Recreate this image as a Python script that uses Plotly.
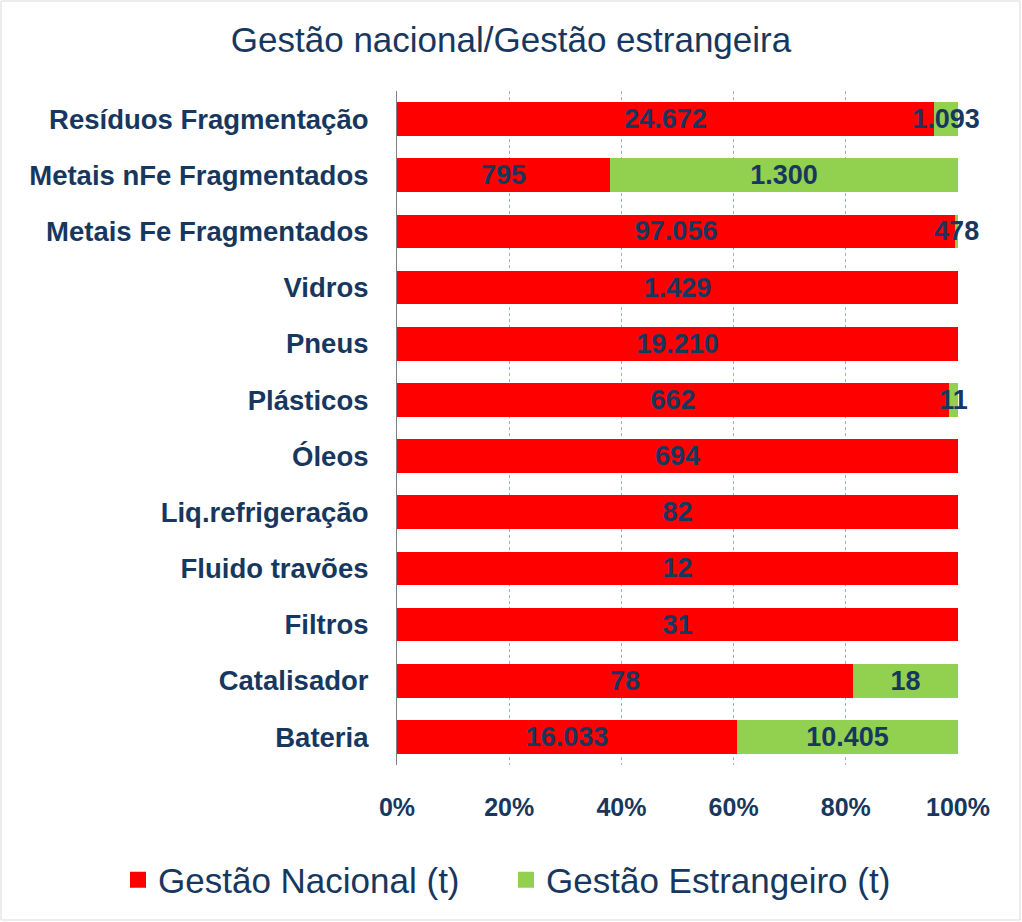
import plotly.graph_objects as go

categories = ["Resíduos Fragmentação", "Metais nFe Fragmentados", "Metais Fe Fragmentados",
              "Vidros", "Pneus", "Plásticos", "Óleos", "Liq.refrigeração",
              "Fluido travões", "Filtros", "Catalisador", "Bateria"]
nacional = [24672, 795, 97056, 1429, 19210, 662, 694, 82, 12, 31, 78, 16033]
estrangeiro = [1093, 1300, 478, 0, 0, 11, 0, 0, 0, 0, 18, 10405]
series_names = ["Gestão Nacional (t)", "Gestão Estrangeiro (t)"]
tick_vals = [0, 20, 40, 60, 80, 100]
tick_text = ["0%", "20%", "40%", "60%", "80%", "100%"]

NAVY = "#17375E"
ARIAL = "Liberation Sans, Arial, sans-serif"
COLORS = ["#FF0000", "#92D050"]

def fmt(v):
    return "" if v == 0 else f"{v:,}".replace(",", ".")

fig = go.Figure()
for vals, name, col in zip([nacional, estrangeiro], series_names, COLORS):
    fig.add_trace(go.Bar(
        y=categories, x=vals, orientation="h", name=name, showlegend=False,
        marker=dict(color=col, line=dict(width=0)),
        text=[fmt(v) for v in vals], textposition="inside", insidetextanchor="middle",
        textangle=0,
        textfont=dict(family=ARIAL, size=27, color=NAVY, weight="bold"),
        constraintext="none", cliponaxis=False,
    ))
# legend entries with larger square swatches
for name, col in zip(series_names, COLORS):
    fig.add_trace(go.Scatter(
        x=[None], y=[None], mode="markers", name=name,
        marker=dict(symbol="square", size=16, color=col),
    ))

L, R, T, B = 397, 64, 91, 157
W, H = 1022, 922
pw, ph = W - L - R, H - T - B

fig.update_layout(
    width=W, height=H,
    barmode="stack", barnorm="percent", bargap=0.4,
    plot_bgcolor="white", paper_bgcolor="white",
    margin=dict(l=L, r=R, t=T, b=B),
    uniformtext=dict(minsize=27, mode="show"),
    title=dict(text="Gestão nacional/Gestão estrangeira", x=0.5, xanchor="center",
               y=1 - 40 / H, yanchor="middle",
               font=dict(family=ARIAL, size=35, color=NAVY)),
    legend=dict(orientation="h", x=(118 - L) / pw, xanchor="left",
                y=-(880 - (H - B)) / ph, yanchor="middle",
                font=dict(family=ARIAL, size=35, color=NAVY),
                traceorder="normal", entrywidth=343),
    xaxis=dict(range=[0, 100], tickvals=tick_vals, ticktext=tick_text,
               showgrid=True, gridcolor="#9DB0C8", griddash="dot", gridwidth=1,
               zeroline=False, showline=False,
               tickfont=dict(family=ARIAL, size=25, color=NAVY, weight="bold"),
               ticklabelstandoff=25, fixedrange=True),
    yaxis=dict(autorange="reversed", showline=True, linecolor="#808080", linewidth=1,
               tickfont=dict(family=ARIAL, size=27.5, color=NAVY, weight="bold"),
               ticklabelstandoff=22, fixedrange=True),
)

# light frame around the picture
fig.add_shape(type="rect", xref="paper", yref="paper",
              x0=(1 - L) / pw, x1=(W - 2 - L) / pw,
              y0=-(B - 2) / ph, y1=1 + (T - 1) / ph,
              line=dict(color="#D9D9D9", width=1), layer="below")

fig.write_html("out.html", config={"displayModeBar": False},
               post_script="document.body.style.margin='0';")
